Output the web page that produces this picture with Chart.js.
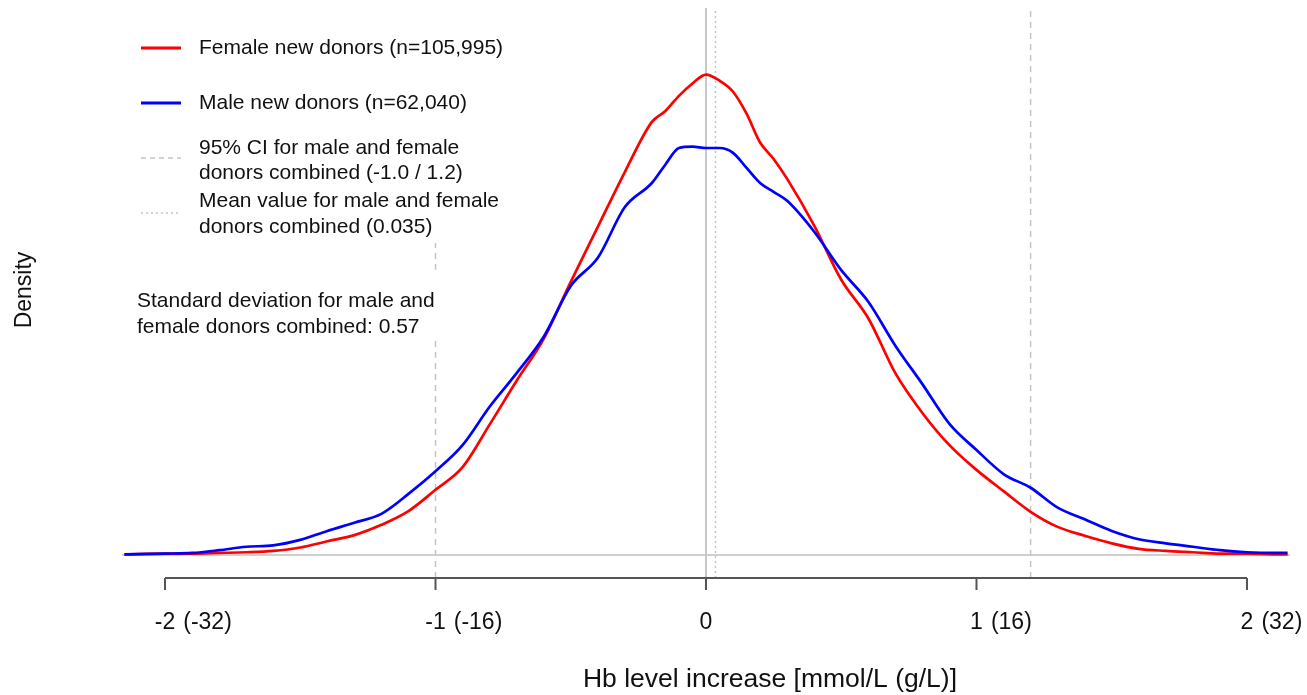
<!DOCTYPE html>
<html><head><meta charset="utf-8">
<script src="https://cdn.jsdelivr.net/npm/chart.js@4.4.1/dist/chart.umd.min.js"></script>
<style>html,body{margin:0;padding:0;background:#fff;} #wrap{width:1307px;height:695px;position:relative;}</style>
</head><body><div id="wrap"><canvas id="c"></canvas></div>
<script>
// ---- data ----
const xValues = [-2.15,-2.0,-1.9,-1.8,-1.7,-1.6,-1.5,-1.4,-1.3,-1.2,-1.1,-1.0,-0.9,-0.8,-0.7,-0.6,-0.5,-0.4,-0.3,-0.2,-0.15,-0.1,-0.05,0,0.05,0.1,0.15,0.2,0.25,0.3,0.4,0.5,0.6,0.7,0.8,0.9,1.0,1.1,1.2,1.3,1.4,1.5,1.6,1.7,1.8,1.9,2.0,2.1,2.15];
const femaleDensity = [0.001,0.002,0.002,0.003,0.004,0.006,0.011,0.020,0.029,0.044,0.064,0.095,0.128,0.190,0.254,0.315,0.398,0.478,0.558,0.631,0.647,0.669,0.687,0.700,0.691,0.675,0.643,0.601,0.577,0.548,0.480,0.401,0.345,0.265,0.207,0.160,0.124,0.093,0.063,0.041,0.028,0.017,0.009,0.006,0.004,0.002,0.002,0.001,0.001];
const maleDensity = [0.001,0.002,0.003,0.007,0.012,0.014,0.022,0.035,0.047,0.060,0.089,0.122,0.160,0.216,0.265,0.318,0.392,0.433,0.507,0.542,0.569,0.593,0.595,0.593,0.593,0.586,0.564,0.542,0.529,0.516,0.471,0.415,0.369,0.305,0.249,0.191,0.153,0.118,0.098,0.069,0.052,0.035,0.023,0.017,0.012,0.007,0.004,0.003,0.003];
const tickValues = [-2,-1,0,1,2];
const tickMain = ['-2','-1','0','1','2'];
const tickSecondary = ['(-32)','(-16)','','(16)','(32)'];
const ciLimits = [-1.0, 1.2];
const meanValue = 0.035;
const xRange = [-2.159, 2.159];
const yRange = [-0.0335, 0.797];
const legendLabels = [
  ['Female new donors (n=105,995)'],
  ['Male new donors (n=62,040)'],
  ['95% CI for male and female','donors combined (-1.0 / 1.2)'],
  ['Mean value for male and female','donors combined (0.035)']
];
const sdNote = ['Standard deviation for male and','female donors combined: 0.57'];
const xTitle = 'Hb level increase [mmol/L (g/L)]';
const yTitle = 'Density';

// ---- styles ----
const FONT = "'Liberation Sans', Arial, sans-serif";
const RED = '#ff0000', BLUE = '#0000ff', GRAY = '#c4c4c4';

const pts = (xs, ys) => xs.map((x, i) => ({x, y: ys[i]}));
const vline = (x) => [{x, y: yRange[0]}, {x, y: yRange[1]}];

const datasets = [
  {label:'male', data: pts(xValues, maleDensity), borderColor: BLUE, borderWidth: 2.7, cubicInterpolationMode:'monotone'},
  {label:'female', data: pts(xValues, femaleDensity), borderColor: RED, borderWidth: 2.7, cubicInterpolationMode:'monotone'},
  {label:'ci-low', data: vline(ciLimits[0]), borderColor: GRAY, borderWidth: 1.5, borderDash:[6,5]},
  {label:'ci-high', data: vline(ciLimits[1]), borderColor: GRAY, borderWidth: 1.5, borderDash:[6,5]},
  {label:'mean', data: vline(meanValue), borderColor: GRAY, borderWidth: 1.5, borderDash:[2,3]},
  {label:'zero', data: vline(0), borderColor: '#c8c8c8', borderWidth: 2},
  {label:'baseline', data: [{x:xRange[0], y:0},{x:xRange[1], y:0}], borderColor: '#cfcfcf', borderWidth: 2}
].map(d => Object.assign({pointRadius:0, fill:false, tension:0}, d));

const overlay = {
  id: 'overlay',
  afterDatasetsDraw(chart) {
    const ctx = chart.ctx, xs = chart.scales.x, ca = chart.chartArea;
    ctx.save();
    // legend background
    ctx.fillStyle = '#fff';
    ctx.fillRect(ca.left, ca.top, 505 - ca.left, 243 - ca.top);
    ctx.fillRect(128, 272, 312, 65);
    // legend samples
    const sampleY = [48, 103, 158, 213];
    const sampleStyle = [
      {c: RED, w: 3, d: []}, {c: BLUE, w: 3, d: []},
      {c: GRAY, w: 1.5, d: [5,4]}, {c: GRAY, w: 1.5, d: [2,3]}
    ];
    sampleStyle.forEach((s, i) => {
      ctx.beginPath(); ctx.setLineDash(s.d); ctx.strokeStyle = s.c; ctx.lineWidth = s.w;
      ctx.moveTo(141, sampleY[i]); ctx.lineTo(181, sampleY[i]); ctx.stroke();
    });
    ctx.setLineDash([]);
    ctx.fillStyle = '#111';
    ctx.font = '21px ' + FONT; ctx.textAlign = 'left'; ctx.textBaseline = 'middle';
    const textY = [[48],[103],[148,173],[201,227]];
    legendLabels.forEach((lines, i) => lines.forEach((t, j) => ctx.fillText(t, 199, textY[i][j])));
    sdNote.forEach((t, j) => ctx.fillText(t, 137, 301 + j * 26));

    // x axis
    const y0 = ca.bottom;
    ctx.strokeStyle = '#555'; ctx.lineWidth = 2;
    ctx.beginPath();
    ctx.moveTo(xs.getPixelForValue(tickValues[0]), y0);
    ctx.lineTo(xs.getPixelForValue(tickValues[tickValues.length-1]), y0);
    tickValues.forEach(v => { const p = xs.getPixelForValue(v); ctx.moveTo(p, y0); ctx.lineTo(p, y0 + 12); });
    ctx.stroke();
    ctx.font = '23px ' + FONT;
    tickValues.forEach((v, i) => {
      const p = xs.getPixelForValue(v);
      ctx.textAlign = 'center';
      ctx.fillText(tickMain[i], p, 623);
      const w = ctx.measureText(tickMain[i]).width;
      ctx.textAlign = 'left';
      if (tickSecondary[i]) ctx.fillText(tickSecondary[i], p + w / 2 + 8, 623);
    });
    ctx.textAlign = 'center';
    ctx.font = '26.5px ' + FONT;
    ctx.fillText(xTitle, 770, 680);
    ctx.font = '23px ' + FONT;
    ctx.save();
    ctx.translate(25, 290); ctx.rotate(-Math.PI / 2);
    ctx.fillText(yTitle, 0, 0);
    ctx.restore();
    ctx.restore();
  }
};

new Chart(document.getElementById('c'), {
  type: 'line',
  data: { datasets },
  options: {
    responsive: true, maintainAspectRatio: false, animation: false, events: [],
    layout: { padding: { left: 122, right: 17, top: 8, bottom: 117 } },
    plugins: { legend: { display: false }, tooltip: { enabled: false } },
    scales: {
      x: { type: 'linear', min: xRange[0], max: xRange[1], display: false },
      y: { type: 'linear', min: yRange[0], max: yRange[1], display: false }
    }
  },
  plugins: [overlay]
});
</script>
</body></html>
